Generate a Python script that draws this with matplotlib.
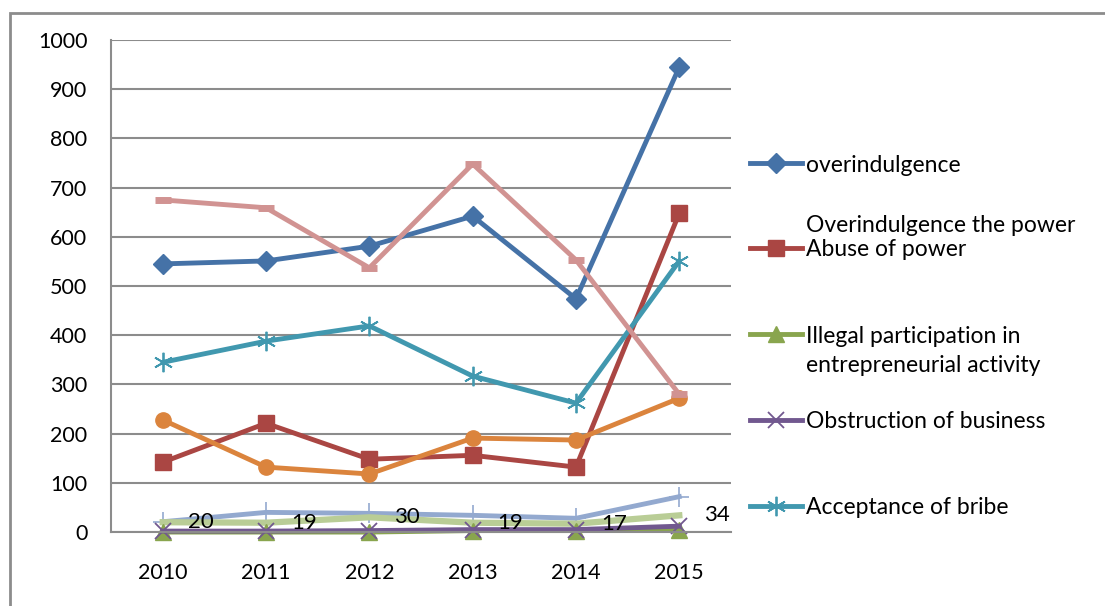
import numpy as np
import matplotlib
matplotlib.use("Agg")
import matplotlib.pyplot as plt
from matplotlib.patches import Rectangle

plt.rcParams['font.family'] = ['Lato', 'DejaVu Sans']

years = ['2010', '2011', '2012', '2013', '2014', '2015']

overindulgence = [545, 551, 581, 642, 474, 945]
abuse_of_power = [142, 221, 148, 156, 132, 648]
illegal_participation = [0, 0, 0, 3, 3, 5]
obstruction = [2, 2, 3, 5, 5, 12]
bribe = [345, 388, 419, 317, 262, 551]
series_orange = [228, 132, 118, 191, 187, 272]
series_pink = [675, 659, 537, 748, 553, 280]
series_lightblue = [21, 40, 38, 34, 28, 72]
series_lightgreen = [20, 19, 30, 19, 17, 34]

fig = plt.figure(figsize=(11.05, 6.06), dpi=100)
ax = fig.add_axes([0.1005, 0.122, 0.561, 0.812])

x = np.arange(len(years))
lw = 3.5

l1, = ax.plot(x, overindulgence, color='#4572A7', lw=lw, marker='D', ms=10, clip_on=False)
l2, = ax.plot(x, abuse_of_power, color='#AA4643', lw=lw, marker='s', ms=11, clip_on=False)
ax.plot(x, series_lightblue, color='#93A9CF', lw=lw, marker='+', ms=14, mew=1.2, clip_on=False)
ax.plot(x, series_lightgreen, color='#B9CD96', lw=lw + 1, clip_on=False)
l3, = ax.plot(x, illegal_participation, color='#89A54E', lw=lw, marker='^', ms=12, clip_on=False)
l4, = ax.plot(x, obstruction, color='#71588F', lw=lw, marker='x', ms=12, mew=1.3, clip_on=False)
l5, = ax.plot(x, bribe, color='#4198AF', lw=lw, marker=(6, 2, 0), ms=14, mew=1.3, clip_on=False)
ax.plot(x, series_orange, color='#DB843D', lw=lw, marker='o', ms=11, clip_on=False)
ax.plot(x, series_pink, color='#D19392', lw=lw, marker='_', ms=12, mew=5, clip_on=False)

for xi, v in zip(x, series_lightgreen):
    ax.annotate(str(v), (xi, v), xytext=(18, 0), textcoords='offset points',
                va='center', ha='left', fontsize=16)

ax.set_xlim(-0.5, 5.5)
ax.set_ylim(0, 1000)
ax.set_yticks(range(0, 1001, 100))
ax.set_xticks(x)
ax.set_xticklabels(years)
ax.tick_params(length=0, labelsize=15.5)
ax.tick_params(axis='y', pad=17)
ax.tick_params(axis='x', pad=22)
ax.grid(axis='y', color='#8C8C8C', lw=1.5)
ax.set_axisbelow(True)
for s in ['top', 'right']:
    ax.spines[s].set_visible(False)
for s in ['left', 'bottom']:
    ax.spines[s].set_color('#8C8C8C')
    ax.spines[s].set_linewidth(1.5)

# legend, one entry at a time
entries = [(l1, 'overindulgence', 165), (l2, 'Abuse of power', 250),
           (l3, 'Illegal participation in', 336), (l4, 'Obstruction of business', 422),
           (l5, 'Acceptance of bribe', 508)]
for h, lab, ypx in entries:
    fig.legend([h], [lab], loc='center left', bbox_to_anchor=(750 / 1105, 1 - ypx / 606),
               frameon=False, fontsize=16.5, handlelength=2.27, handletextpad=0.17,
               borderpad=0, borderaxespad=0)
fig.text(806 / 1105, 1 - 225 / 606, 'Overindulgence the power', fontsize=16.5, va='center')
fig.text(806 / 1105, 1 - 366 / 606, 'entrepreneurial activity', fontsize=16.5, va='center')

fig.patches.append(Rectangle((10 / 1105, -0.05), 1.1, 1 - 13 / 606 + 0.05, transform=fig.transFigure,
                             fill=False, ec='#8C8C8C', lw=2))

fig.savefig('out.png', dpi=100)
